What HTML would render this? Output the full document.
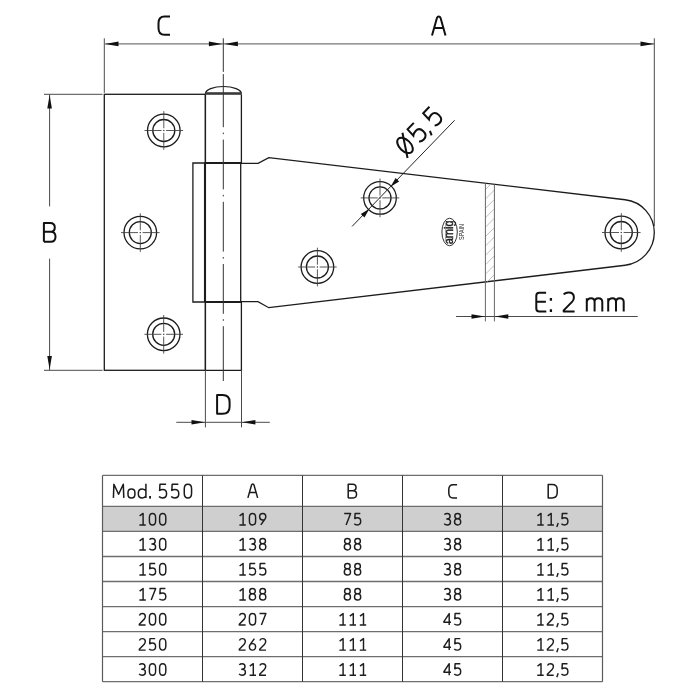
<!DOCTYPE html>
<html><head><meta charset="utf-8"><style>
html,body{margin:0;padding:0;background:#fff;width:700px;height:700px;overflow:hidden}
svg{position:absolute;left:0;top:0;display:block;will-change:transform}
text{font-family:"Liberation Sans",sans-serif}
</style></head><body>
<svg width="700" height="700" viewBox="0 0 700 700">
<rect width="700" height="700" fill="#fff"/>
<line x1="104.3" y1="38.3" x2="104.3" y2="92.8" stroke="#4a4a4a" stroke-width="1.0" />
<line x1="104.3" y1="43.9" x2="654.3" y2="43.9" stroke="#777" stroke-width="1.3" />
<polygon points="105.00,43.90 118.50,41.60 118.50,46.20" fill="#111"/>
<polygon points="222.40,43.90 208.90,46.20 208.90,41.60" fill="#111"/>
<polygon points="224.40,43.90 237.90,41.60 237.90,46.20" fill="#111"/>
<polygon points="654.00,43.90 640.50,46.20 640.50,41.60" fill="#111"/>
<line x1="654.3" y1="38.3" x2="654.3" y2="226" stroke="#4a4a4a" stroke-width="1.0" />
<path transform="translate(158.5,34.7) " d="M11.5,-18.3 H6 C2,-18.3 0,-16 0,-11.5 V-6.8 C0,-2.3 2,0 6,0 H11.5" fill="none" stroke="#111" stroke-width="2.0" stroke-linecap="butt" stroke-linejoin="round"/>
<path transform="translate(432,35.6) " d="M0,0 L5,-17.8 Q5.5,-19.2 6.75,-19.2 Q8,-19.2 8.5,-17.8 L13.5,0 M2.4,-7.6 H11.1" fill="none" stroke="#111" stroke-width="2.0" stroke-linecap="butt" stroke-linejoin="round"/>
<line x1="44" y1="94.3" x2="102.5" y2="94.3" stroke="#4a4a4a" stroke-width="1.0" />
<line x1="44" y1="370.3" x2="102.5" y2="370.3" stroke="#4a4a4a" stroke-width="1.0" />
<line x1="49.6" y1="94.3" x2="49.6" y2="206.4" stroke="#4a4a4a" stroke-width="1.0" />
<line x1="49.6" y1="258.6" x2="49.6" y2="370.3" stroke="#4a4a4a" stroke-width="1.0" />
<polygon points="49.60,95.00 51.90,108.50 47.30,108.50" fill="#111"/>
<polygon points="49.60,369.60 47.30,356.10 51.90,356.10" fill="#111"/>
<path transform="translate(43.9,241.8) " d="M0,0 V-18.9 H6.2 Q10.9,-18.9 10.9,-14.4 Q10.9,-10 6.2,-10 H0 M6.2,-10 H6.8 Q11.6,-10 11.6,-5 Q11.6,0 6.8,0 H0" fill="none" stroke="#111" stroke-width="2.0" stroke-linecap="butt" stroke-linejoin="round"/>
<rect x="104.3" y="94.3" width="101.1" height="276" fill="none" stroke="#1c1c1c" stroke-width="1.3"/>
<path d="M205.4,94.3 V163 M241.4,94.3 V163 M205.4,302 V370.3 H241.4 V302" fill="none" stroke="#1c1c1c" stroke-width="1.3"/>
<path d="M205.4,93.8 A18,7.3 0 0 1 241.4,93.8" fill="none" stroke="#1c1c1c" stroke-width="1.2"/>
<rect x="205.4" y="92.2" width="36" height="2.6" fill="#3a3a3a"/>
<path d="M192.9,302 V163 H240.7 V302 Z M204.6,163 V302" fill="none" stroke="#1c1c1c" stroke-width="1.3"/>
<line x1="204.6" y1="163" x2="241.4" y2="163" stroke="#1c1c1c" stroke-width="2.2" />
<line x1="204.6" y1="302" x2="241.4" y2="302" stroke="#1c1c1c" stroke-width="2.2" />
<path d="M240.7,163.4 H258.1 L268.8,157.6 L625.17,199.73 A33,33 0 0 1 625.2,265.27 L268.8,307.7 L258.0,301.7 H240.7" fill="none" stroke="#1c1c1c" stroke-width="1.3"/>
<clipPath id="hc"><polygon points="485.4,183.2 494.4,184.3 494.4,280.8 485.4,281.9"/></clipPath>
<path d="M485.4,180.2 L494.4,171.2 M485.4,189.6 L494.4,180.6 M485.4,199.0 L494.4,190.0 M485.4,208.4 L494.4,199.4 M485.4,217.8 L494.4,208.8 M485.4,227.2 L494.4,218.2 M485.4,236.6 L494.4,227.6 M485.4,246.0 L494.4,237.0 M485.4,255.4 L494.4,246.4 M485.4,264.8 L494.4,255.8 M485.4,274.2 L494.4,265.2 M485.4,283.6 L494.4,274.6 M485.4,293.0 L494.4,284.0 M485.4,302.4 L494.4,293.4 M485.4,311.8 L494.4,302.8 M485.4,321.2 L494.4,312.2" stroke="#b0b0b0" stroke-width="0.8" clip-path="url(#hc)"/>
<line x1="485.4" y1="183.20211999999998" x2="485.4" y2="321.4" stroke="#666" stroke-width="1.0" />
<line x1="494.4" y1="184.26592" x2="494.4" y2="321.4" stroke="#666" stroke-width="1.0" />
<circle cx="163.8" cy="130.5" r="16.3" fill="none" stroke="#1c1c1c" stroke-width="1.3"/>
<circle cx="163.8" cy="130.5" r="11.0" fill="none" stroke="#1c1c1c" stroke-width="1.3"/>
<path d="M144.5,130.5 H161.5 M163.20000000000002,130.5 H164.4 M166.10000000000002,130.5 H183.10000000000002 M163.8,111.2 V128.2 M163.8,129.9 V131.1 M163.8,132.8 V149.8" stroke="#3a3a3a" stroke-width="0.85"/>
<circle cx="140.3" cy="232.6" r="16.3" fill="none" stroke="#1c1c1c" stroke-width="1.3"/>
<circle cx="140.3" cy="232.6" r="11.0" fill="none" stroke="#1c1c1c" stroke-width="1.3"/>
<path d="M121.00000000000001,232.6 H138.0 M139.70000000000002,232.6 H140.9 M142.60000000000002,232.6 H159.60000000000002 M140.3,213.29999999999998 V230.29999999999998 M140.3,232.0 V233.2 M140.3,234.9 V251.9" stroke="#3a3a3a" stroke-width="0.85"/>
<circle cx="163.7" cy="334.3" r="16.3" fill="none" stroke="#1c1c1c" stroke-width="1.3"/>
<circle cx="163.7" cy="334.3" r="11.0" fill="none" stroke="#1c1c1c" stroke-width="1.3"/>
<path d="M144.39999999999998,334.3 H161.39999999999998 M163.1,334.3 H164.29999999999998 M166.0,334.3 H183.0 M163.7,315.0 V332.0 M163.7,333.7 V334.90000000000003 M163.7,336.6 V353.6" stroke="#3a3a3a" stroke-width="0.85"/>
<circle cx="380.0" cy="197.9" r="16.3" fill="none" stroke="#1c1c1c" stroke-width="1.3"/>
<circle cx="380.0" cy="197.9" r="11.0" fill="none" stroke="#1c1c1c" stroke-width="1.3"/>
<path d="M360.7,197.9 H377.7 M379.4,197.9 H380.6 M382.3,197.9 H399.3 M380.0,178.6 V195.6 M380.0,197.3 V198.5 M380.0,200.20000000000002 V217.20000000000002" stroke="#3a3a3a" stroke-width="0.85"/>
<circle cx="317.4" cy="267.0" r="16.3" fill="none" stroke="#1c1c1c" stroke-width="1.3"/>
<circle cx="317.4" cy="267.0" r="11.0" fill="none" stroke="#1c1c1c" stroke-width="1.3"/>
<path d="M298.09999999999997,267.0 H315.09999999999997 M316.79999999999995,267.0 H318.0 M319.7,267.0 H336.7 M317.4,247.7 V264.7 M317.4,266.4 V267.6 M317.4,269.3 V286.3" stroke="#3a3a3a" stroke-width="0.85"/>
<circle cx="621.3" cy="232.5" r="16.3" fill="none" stroke="#1c1c1c" stroke-width="1.3"/>
<circle cx="621.3" cy="232.5" r="11.0" fill="none" stroke="#1c1c1c" stroke-width="1.3"/>
<path d="M602.0,232.5 H619.0 M620.6999999999999,232.5 H621.9 M623.5999999999999,232.5 H640.5999999999999 M621.3,213.2 V230.2 M621.3,231.9 V233.1 M621.3,234.8 V251.8" stroke="#3a3a3a" stroke-width="0.85"/>
<path d="M223.3,38.3 V71.9 M223.3,74.1 V127.2 M223.3,132.6 V134.2 M223.3,194.8 V196.4 M223.3,257.0 V258.6 M223.3,319.2 V320.8 M223.3,139.6 V189.4 M223.3,201.8 V251.6 M223.3,264.0 V313.8 M223.3,326.2 V381.0" stroke="#333" stroke-width="1"/>
<line x1="352.1" y1="226.4" x2="454.6" y2="120.3" stroke="#222" stroke-width="1.0" />
<polygon points="369.44,208.73 364.43,217.52 360.83,214.04" fill="#111"/>
<polygon points="390.56,186.87 395.57,178.08 399.17,181.56" fill="#111"/>
<g transform="translate(405,145.4) rotate(-45.99)">
<ellipse cx="0" cy="0" rx="5.6" ry="9.4" fill="none" stroke="#111" stroke-width="2"/>
<path d="M7.3,-10.6 L-7.3,10.6" stroke="#111" stroke-width="2"/>
<path transform="translate(12.3,9.4)" d="M10,-18.7 H1 L0.5,-10.2 Q2.5,-11.8 5.5,-11.8 Q10.6,-11.8 10.6,-6 Q10.6,0 5,0 Q1.8,0 0.2,-2" fill="none" stroke="#111" stroke-width="2"/>
<path d="M27.8,7.8 L25.7,12.2" stroke="#111" stroke-width="2"/>
<path transform="translate(34.8,9.4)" d="M10,-18.7 H1 L0.5,-10.2 Q2.5,-11.8 5.5,-11.8 Q10.6,-11.8 10.6,-6 Q10.6,0 5,0 Q1.8,0 0.2,-2" fill="none" stroke="#111" stroke-width="2"/>
</g>
<ellipse cx="449.6" cy="232" rx="7.7" ry="13.8" fill="none" stroke="#333" stroke-width="1"/>
<text transform="translate(452.6,232.4) rotate(-90) scale(1.1,1.2)" font-size="10" text-anchor="middle" fill="#222" stroke="#222" stroke-width="0.35">amig</text>
<path d="M445.7,222.5 V241.5" stroke="#555" stroke-width="0.6"/>
<text transform="translate(464.1,232) rotate(-90) scale(0.7,1)" font-size="7.8" text-anchor="middle" fill="#222">SPAIN</text>
<line x1="456" y1="316.5" x2="637.7" y2="316.5" stroke="#4a4a4a" stroke-width="1.0" />
<polygon points="485.00,316.50 471.50,318.80 471.50,314.20" fill="#111"/>
<polygon points="494.80,316.50 508.30,314.20 508.30,318.80" fill="#111"/>
<path transform="translate(536.3,311.4) " d="M9.8,-18.7 H3 Q0,-18.7 0,-15.7 V-3 Q0,0 3,0 H10 M0,-9.6 H9.6" fill="none" stroke="#111" stroke-width="2.0" stroke-linecap="butt" stroke-linejoin="round"/>
<path d="M550.9,297.9 V300.7 M550.9,309.3 V312.1" stroke="#111" stroke-width="2.3"/>
<path transform="translate(563.5,311.4) " d="M0.3,-16.8 Q1.5,-18.9 5.1,-18.9 Q10.4,-18.9 10.4,-14 Q10.4,-11.5 8.5,-9.5 L0.2,-1 V0 H11.1" fill="none" stroke="#111" stroke-width="2.0" stroke-linecap="butt" stroke-linejoin="round"/>
<path transform="translate(586.8,311.4) " d="M0,0 V-13.2 M0,-9.5 Q0.6,-13.2 4.3,-13.2 Q7.8,-13.2 7.8,-9.5 V0 M7.8,-9.5 Q7.8,-13.2 11.6,-13.2 Q15.5,-13.2 15.5,-9.5 V0" fill="none" stroke="#111" stroke-width="2.0" stroke-linecap="butt" stroke-linejoin="round"/>
<path transform="translate(608.2,311.4) " d="M0,0 V-13.2 M0,-9.5 Q0.6,-13.2 4.3,-13.2 Q7.8,-13.2 7.8,-9.5 V0 M7.8,-9.5 Q7.8,-13.2 11.6,-13.2 Q15.5,-13.2 15.5,-9.5 V0" fill="none" stroke="#111" stroke-width="2.0" stroke-linecap="butt" stroke-linejoin="round"/>
<line x1="205.4" y1="370.3" x2="205.4" y2="427.4" stroke="#4a4a4a" stroke-width="1.0" />
<line x1="241.5" y1="370.3" x2="241.5" y2="427.4" stroke="#4a4a4a" stroke-width="1.0" />
<line x1="176.3" y1="422.3" x2="269.8" y2="422.3" stroke="#4a4a4a" stroke-width="1.0" />
<polygon points="205.00,422.30 191.50,424.60 191.50,420.00" fill="#111"/>
<polygon points="241.90,422.30 255.40,420.00 255.40,424.60" fill="#111"/>
<path transform="translate(217.1,413.7) " d="M0,0 V-18.6 H5.5 Q12.5,-18.6 12.5,-11.6 V-7 Q12.5,0 5.5,0 Z" fill="none" stroke="#111" stroke-width="2.0" stroke-linecap="butt" stroke-linejoin="round"/>
<rect x="102.5" y="506.4" width="500" height="25" fill="#cfcfcf"/>
<line x1="102.5" y1="475.4" x2="602.5" y2="475.4" stroke="#6e6e6e" stroke-width="1.3" />
<line x1="102.5" y1="506.4" x2="602.5" y2="506.4" stroke="#6e6e6e" stroke-width="1.3" />
<line x1="102.5" y1="531.44" x2="602.5" y2="531.44" stroke="#6e6e6e" stroke-width="1.3" />
<line x1="102.5" y1="556.48" x2="602.5" y2="556.48" stroke="#6e6e6e" stroke-width="1.3" />
<line x1="102.5" y1="581.52" x2="602.5" y2="581.52" stroke="#6e6e6e" stroke-width="1.3" />
<line x1="102.5" y1="606.56" x2="602.5" y2="606.56" stroke="#6e6e6e" stroke-width="1.3" />
<line x1="102.5" y1="631.6" x2="602.5" y2="631.6" stroke="#6e6e6e" stroke-width="1.3" />
<line x1="102.5" y1="656.64" x2="602.5" y2="656.64" stroke="#6e6e6e" stroke-width="1.3" />
<line x1="102.5" y1="681.68" x2="602.5" y2="681.68" stroke="#6e6e6e" stroke-width="1.3" />
<line x1="102.5" y1="475.4" x2="102.5" y2="681.7" stroke="#5a5a5a" stroke-width="1.2" />
<line x1="602.5" y1="475.4" x2="602.5" y2="681.7" stroke="#5a5a5a" stroke-width="1.2" />
<line x1="202.5" y1="475.4" x2="202.5" y2="681.7" stroke="#333" stroke-width="1.0" />
<line x1="302.5" y1="475.4" x2="302.5" y2="681.7" stroke="#333" stroke-width="1.0" />
<line x1="402.5" y1="475.4" x2="402.5" y2="681.7" stroke="#333" stroke-width="1.0" />
<line x1="502.5" y1="475.4" x2="502.5" y2="681.7" stroke="#333" stroke-width="1.0" />
<path transform="translate(247.9,497.9) scale(0.72)" d="M0,0 L5,-17.8 Q5.5,-19.2 6.75,-19.2 Q8,-19.2 8.5,-17.8 L13.5,0 M2.4,-7.6 H11.1" fill="none" stroke="#1a1a1a" stroke-width="2.1" stroke-linejoin="round"/>
<path transform="translate(348.2,497.9) scale(0.72)" d="M0,0 V-18.9 H6.2 Q10.9,-18.9 10.9,-14.4 Q10.9,-10 6.2,-10 H0 M6.2,-10 H6.8 Q11.6,-10 11.6,-5 Q11.6,0 6.8,0 H0" fill="none" stroke="#1a1a1a" stroke-width="2.1" stroke-linejoin="round"/>
<path transform="translate(448.8,497.9) scale(0.72)" d="M11.5,-18.3 H6 C2,-18.3 0,-16 0,-11.5 V-6.8 C0,-2.3 2,0 6,0 H11.5" fill="none" stroke="#1a1a1a" stroke-width="2.1" stroke-linejoin="round"/>
<path transform="translate(548.2,497.9) scale(0.72)" d="M0,0 V-18.6 H5.5 Q12.5,-18.6 12.5,-11.6 V-7 Q12.5,0 5.5,0 Z" fill="none" stroke="#1a1a1a" stroke-width="2.1" stroke-linejoin="round"/>
<g fill="none" stroke="#1a1a1a" stroke-width="1.5" stroke-linejoin="round">
<path d="M113.4,497.9 L113.9,484.2 L118.6,494.2 L123.3,484.2 L123.8,497.9"/>
<path d="M131.45,488.9 Q134.9,488.9 134.9,492.4 V494.4 Q134.9,497.9 131.45,497.9 Q128.0,497.9 128.0,494.4 V492.4 Q128.0,488.9 131.45,488.9 Z"/>
<path d="M145.9,483.7 V497.9 M145.9,491.0 Q144.9,488.9 142.2,488.9 Q138.3,488.9 138.3,493.4 Q138.3,497.9 142.2,497.9 Q144.9,497.9 145.9,495.8"/>
</g>
<rect x="149.1" y="496.0" width="1.9" height="2.6" fill="#1a1a1a"/>
<path transform="translate(156.9,497.9) scale(1.18)" d="M7.8,-11.5 H2.6 L2.3,-6.3 Q3.3,-7.1 4.9,-7.1 Q8.2,-7.1 8.2,-3.6 Q8.2,0 4.8,0 Q2.8,0 1.8,-1.2" fill="none" stroke="#1a1a1a" stroke-width="1.271" stroke-linejoin="round"/>
<path transform="translate(169.1,497.9) scale(1.18)" d="M7.8,-11.5 H2.6 L2.3,-6.3 Q3.3,-7.1 4.9,-7.1 Q8.2,-7.1 8.2,-3.6 Q8.2,0 4.8,0 Q2.8,0 1.8,-1.2" fill="none" stroke="#1a1a1a" stroke-width="1.271" stroke-linejoin="round"/>
<path transform="translate(181.9,497.9) scale(1.18)" d="M5.1,-11.5 Q8.2,-11.5 8.2,-7.5 V-4 Q8.2,0 5.1,0 Q2.0,0 2.0,-4 V-7.5 Q2.0,-11.5 5.1,-11.5 Z" fill="none" stroke="#1a1a1a" stroke-width="1.271" stroke-linejoin="round"/>
<g fill="none" stroke="#1e1e1e" stroke-width="1.450" stroke-linejoin="round"><path transform="translate(137.20,524.92) scale(1.0)" d="M2.4,-9.0 L5.9,-11.5 V0 M2.2,0 H8.6"/><path transform="translate(147.40,524.92) scale(1.0)" d="M5.1,-11.5 Q8.2,-11.5 8.2,-7.5 V-4 Q8.2,0 5.1,0 Q2.0,0 2.0,-4 V-7.5 Q2.0,-11.5 5.1,-11.5 Z"/><path transform="translate(157.60,524.92) scale(1.0)" d="M5.1,-11.5 Q8.2,-11.5 8.2,-7.5 V-4 Q8.2,0 5.1,0 Q2.0,0 2.0,-4 V-7.5 Q2.0,-11.5 5.1,-11.5 Z"/></g>
<g fill="none" stroke="#1e1e1e" stroke-width="1.450" stroke-linejoin="round"><path transform="translate(237.20,524.92) scale(1.0)" d="M2.4,-9.0 L5.9,-11.5 V0 M2.2,0 H8.6"/><path transform="translate(247.40,524.92) scale(1.0)" d="M5.1,-11.5 Q8.2,-11.5 8.2,-7.5 V-4 Q8.2,0 5.1,0 Q2.0,0 2.0,-4 V-7.5 Q2.0,-11.5 5.1,-11.5 Z"/><path transform="translate(257.60,524.92) scale(1.0)" d="M3.2,0 L7.4,-5.9 Q8.2,-7.1 8.2,-8.2 Q8.2,-11.5 5.1,-11.5 Q2.0,-11.5 2.0,-8.2 Q2.0,-5.0 5.1,-5.0 Q6.5,-5.0 7.5,-5.7"/></g>
<g fill="none" stroke="#1e1e1e" stroke-width="1.450" stroke-linejoin="round"><path transform="translate(342.30,524.92) scale(1.0)" d="M1.9,-11.5 H8.3 L3.8,0"/><path transform="translate(352.50,524.92) scale(1.0)" d="M7.8,-11.5 H2.6 L2.3,-6.3 Q3.3,-7.1 4.9,-7.1 Q8.2,-7.1 8.2,-3.6 Q8.2,0 4.8,0 Q2.8,0 1.8,-1.2"/></g>
<g fill="none" stroke="#1e1e1e" stroke-width="1.450" stroke-linejoin="round"><path transform="translate(442.30,524.92) scale(1.0)" d="M2.1,-10.3 Q3.0,-11.5 5.0,-11.5 Q7.8,-11.5 7.8,-8.7 Q7.8,-6.0 4.7,-6.0 H4.0 M4.7,-6.0 Q8.2,-6.0 8.2,-3.0 Q8.2,0 4.9,0 Q2.8,0 1.9,-1.3"/><path transform="translate(452.50,524.92) scale(1.0)" d="M5.1,-6.2 Q2.3,-6.2 2.3,-8.85 Q2.3,-11.5 5.1,-11.5 Q7.9,-11.5 7.9,-8.85 Q7.9,-6.2 5.1,-6.2 Q8.2,-6.2 8.2,-3.1 Q8.2,0 5.1,0 Q2.0,0 2.0,-3.1 Q2.0,-6.2 5.1,-6.2 Z"/></g>
<g fill="none" stroke="#1e1e1e" stroke-width="1.450" stroke-linejoin="round"><path transform="translate(535.10,524.92) scale(1.0)" d="M2.4,-9.0 L5.9,-11.5 V0 M2.2,0 H8.6"/><path transform="translate(545.30,524.92) scale(1.0)" d="M2.4,-9.0 L5.9,-11.5 V0 M2.2,0 H8.6"/><path transform="translate(555.50,524.92) scale(1.0)" d="M2.7,-2.0 L1.3,2.1"/><path transform="translate(559.70,524.92) scale(1.0)" d="M7.8,-11.5 H2.6 L2.3,-6.3 Q3.3,-7.1 4.9,-7.1 Q8.2,-7.1 8.2,-3.6 Q8.2,0 4.8,0 Q2.8,0 1.8,-1.2"/></g>
<g fill="none" stroke="#1e1e1e" stroke-width="1.450" stroke-linejoin="round"><path transform="translate(137.20,549.96) scale(1.0)" d="M2.4,-9.0 L5.9,-11.5 V0 M2.2,0 H8.6"/><path transform="translate(147.40,549.96) scale(1.0)" d="M2.1,-10.3 Q3.0,-11.5 5.0,-11.5 Q7.8,-11.5 7.8,-8.7 Q7.8,-6.0 4.7,-6.0 H4.0 M4.7,-6.0 Q8.2,-6.0 8.2,-3.0 Q8.2,0 4.9,0 Q2.8,0 1.9,-1.3"/><path transform="translate(157.60,549.96) scale(1.0)" d="M5.1,-11.5 Q8.2,-11.5 8.2,-7.5 V-4 Q8.2,0 5.1,0 Q2.0,0 2.0,-4 V-7.5 Q2.0,-11.5 5.1,-11.5 Z"/></g>
<g fill="none" stroke="#1e1e1e" stroke-width="1.450" stroke-linejoin="round"><path transform="translate(237.20,549.96) scale(1.0)" d="M2.4,-9.0 L5.9,-11.5 V0 M2.2,0 H8.6"/><path transform="translate(247.40,549.96) scale(1.0)" d="M2.1,-10.3 Q3.0,-11.5 5.0,-11.5 Q7.8,-11.5 7.8,-8.7 Q7.8,-6.0 4.7,-6.0 H4.0 M4.7,-6.0 Q8.2,-6.0 8.2,-3.0 Q8.2,0 4.9,0 Q2.8,0 1.9,-1.3"/><path transform="translate(257.60,549.96) scale(1.0)" d="M5.1,-6.2 Q2.3,-6.2 2.3,-8.85 Q2.3,-11.5 5.1,-11.5 Q7.9,-11.5 7.9,-8.85 Q7.9,-6.2 5.1,-6.2 Q8.2,-6.2 8.2,-3.1 Q8.2,0 5.1,0 Q2.0,0 2.0,-3.1 Q2.0,-6.2 5.1,-6.2 Z"/></g>
<g fill="none" stroke="#1e1e1e" stroke-width="1.450" stroke-linejoin="round"><path transform="translate(342.30,549.96) scale(1.0)" d="M5.1,-6.2 Q2.3,-6.2 2.3,-8.85 Q2.3,-11.5 5.1,-11.5 Q7.9,-11.5 7.9,-8.85 Q7.9,-6.2 5.1,-6.2 Q8.2,-6.2 8.2,-3.1 Q8.2,0 5.1,0 Q2.0,0 2.0,-3.1 Q2.0,-6.2 5.1,-6.2 Z"/><path transform="translate(352.50,549.96) scale(1.0)" d="M5.1,-6.2 Q2.3,-6.2 2.3,-8.85 Q2.3,-11.5 5.1,-11.5 Q7.9,-11.5 7.9,-8.85 Q7.9,-6.2 5.1,-6.2 Q8.2,-6.2 8.2,-3.1 Q8.2,0 5.1,0 Q2.0,0 2.0,-3.1 Q2.0,-6.2 5.1,-6.2 Z"/></g>
<g fill="none" stroke="#1e1e1e" stroke-width="1.450" stroke-linejoin="round"><path transform="translate(442.30,549.96) scale(1.0)" d="M2.1,-10.3 Q3.0,-11.5 5.0,-11.5 Q7.8,-11.5 7.8,-8.7 Q7.8,-6.0 4.7,-6.0 H4.0 M4.7,-6.0 Q8.2,-6.0 8.2,-3.0 Q8.2,0 4.9,0 Q2.8,0 1.9,-1.3"/><path transform="translate(452.50,549.96) scale(1.0)" d="M5.1,-6.2 Q2.3,-6.2 2.3,-8.85 Q2.3,-11.5 5.1,-11.5 Q7.9,-11.5 7.9,-8.85 Q7.9,-6.2 5.1,-6.2 Q8.2,-6.2 8.2,-3.1 Q8.2,0 5.1,0 Q2.0,0 2.0,-3.1 Q2.0,-6.2 5.1,-6.2 Z"/></g>
<g fill="none" stroke="#1e1e1e" stroke-width="1.450" stroke-linejoin="round"><path transform="translate(535.10,549.96) scale(1.0)" d="M2.4,-9.0 L5.9,-11.5 V0 M2.2,0 H8.6"/><path transform="translate(545.30,549.96) scale(1.0)" d="M2.4,-9.0 L5.9,-11.5 V0 M2.2,0 H8.6"/><path transform="translate(555.50,549.96) scale(1.0)" d="M2.7,-2.0 L1.3,2.1"/><path transform="translate(559.70,549.96) scale(1.0)" d="M7.8,-11.5 H2.6 L2.3,-6.3 Q3.3,-7.1 4.9,-7.1 Q8.2,-7.1 8.2,-3.6 Q8.2,0 4.8,0 Q2.8,0 1.8,-1.2"/></g>
<g fill="none" stroke="#1e1e1e" stroke-width="1.450" stroke-linejoin="round"><path transform="translate(137.20,575.0) scale(1.0)" d="M2.4,-9.0 L5.9,-11.5 V0 M2.2,0 H8.6"/><path transform="translate(147.40,575.0) scale(1.0)" d="M7.8,-11.5 H2.6 L2.3,-6.3 Q3.3,-7.1 4.9,-7.1 Q8.2,-7.1 8.2,-3.6 Q8.2,0 4.8,0 Q2.8,0 1.8,-1.2"/><path transform="translate(157.60,575.0) scale(1.0)" d="M5.1,-11.5 Q8.2,-11.5 8.2,-7.5 V-4 Q8.2,0 5.1,0 Q2.0,0 2.0,-4 V-7.5 Q2.0,-11.5 5.1,-11.5 Z"/></g>
<g fill="none" stroke="#1e1e1e" stroke-width="1.450" stroke-linejoin="round"><path transform="translate(237.20,575.0) scale(1.0)" d="M2.4,-9.0 L5.9,-11.5 V0 M2.2,0 H8.6"/><path transform="translate(247.40,575.0) scale(1.0)" d="M7.8,-11.5 H2.6 L2.3,-6.3 Q3.3,-7.1 4.9,-7.1 Q8.2,-7.1 8.2,-3.6 Q8.2,0 4.8,0 Q2.8,0 1.8,-1.2"/><path transform="translate(257.60,575.0) scale(1.0)" d="M7.8,-11.5 H2.6 L2.3,-6.3 Q3.3,-7.1 4.9,-7.1 Q8.2,-7.1 8.2,-3.6 Q8.2,0 4.8,0 Q2.8,0 1.8,-1.2"/></g>
<g fill="none" stroke="#1e1e1e" stroke-width="1.450" stroke-linejoin="round"><path transform="translate(342.30,575.0) scale(1.0)" d="M5.1,-6.2 Q2.3,-6.2 2.3,-8.85 Q2.3,-11.5 5.1,-11.5 Q7.9,-11.5 7.9,-8.85 Q7.9,-6.2 5.1,-6.2 Q8.2,-6.2 8.2,-3.1 Q8.2,0 5.1,0 Q2.0,0 2.0,-3.1 Q2.0,-6.2 5.1,-6.2 Z"/><path transform="translate(352.50,575.0) scale(1.0)" d="M5.1,-6.2 Q2.3,-6.2 2.3,-8.85 Q2.3,-11.5 5.1,-11.5 Q7.9,-11.5 7.9,-8.85 Q7.9,-6.2 5.1,-6.2 Q8.2,-6.2 8.2,-3.1 Q8.2,0 5.1,0 Q2.0,0 2.0,-3.1 Q2.0,-6.2 5.1,-6.2 Z"/></g>
<g fill="none" stroke="#1e1e1e" stroke-width="1.450" stroke-linejoin="round"><path transform="translate(442.30,575.0) scale(1.0)" d="M2.1,-10.3 Q3.0,-11.5 5.0,-11.5 Q7.8,-11.5 7.8,-8.7 Q7.8,-6.0 4.7,-6.0 H4.0 M4.7,-6.0 Q8.2,-6.0 8.2,-3.0 Q8.2,0 4.9,0 Q2.8,0 1.9,-1.3"/><path transform="translate(452.50,575.0) scale(1.0)" d="M5.1,-6.2 Q2.3,-6.2 2.3,-8.85 Q2.3,-11.5 5.1,-11.5 Q7.9,-11.5 7.9,-8.85 Q7.9,-6.2 5.1,-6.2 Q8.2,-6.2 8.2,-3.1 Q8.2,0 5.1,0 Q2.0,0 2.0,-3.1 Q2.0,-6.2 5.1,-6.2 Z"/></g>
<g fill="none" stroke="#1e1e1e" stroke-width="1.450" stroke-linejoin="round"><path transform="translate(535.10,575.0) scale(1.0)" d="M2.4,-9.0 L5.9,-11.5 V0 M2.2,0 H8.6"/><path transform="translate(545.30,575.0) scale(1.0)" d="M2.4,-9.0 L5.9,-11.5 V0 M2.2,0 H8.6"/><path transform="translate(555.50,575.0) scale(1.0)" d="M2.7,-2.0 L1.3,2.1"/><path transform="translate(559.70,575.0) scale(1.0)" d="M7.8,-11.5 H2.6 L2.3,-6.3 Q3.3,-7.1 4.9,-7.1 Q8.2,-7.1 8.2,-3.6 Q8.2,0 4.8,0 Q2.8,0 1.8,-1.2"/></g>
<g fill="none" stroke="#1e1e1e" stroke-width="1.450" stroke-linejoin="round"><path transform="translate(137.20,600.04) scale(1.0)" d="M2.4,-9.0 L5.9,-11.5 V0 M2.2,0 H8.6"/><path transform="translate(147.40,600.04) scale(1.0)" d="M1.9,-11.5 H8.3 L3.8,0"/><path transform="translate(157.60,600.04) scale(1.0)" d="M7.8,-11.5 H2.6 L2.3,-6.3 Q3.3,-7.1 4.9,-7.1 Q8.2,-7.1 8.2,-3.6 Q8.2,0 4.8,0 Q2.8,0 1.8,-1.2"/></g>
<g fill="none" stroke="#1e1e1e" stroke-width="1.450" stroke-linejoin="round"><path transform="translate(237.20,600.04) scale(1.0)" d="M2.4,-9.0 L5.9,-11.5 V0 M2.2,0 H8.6"/><path transform="translate(247.40,600.04) scale(1.0)" d="M5.1,-6.2 Q2.3,-6.2 2.3,-8.85 Q2.3,-11.5 5.1,-11.5 Q7.9,-11.5 7.9,-8.85 Q7.9,-6.2 5.1,-6.2 Q8.2,-6.2 8.2,-3.1 Q8.2,0 5.1,0 Q2.0,0 2.0,-3.1 Q2.0,-6.2 5.1,-6.2 Z"/><path transform="translate(257.60,600.04) scale(1.0)" d="M5.1,-6.2 Q2.3,-6.2 2.3,-8.85 Q2.3,-11.5 5.1,-11.5 Q7.9,-11.5 7.9,-8.85 Q7.9,-6.2 5.1,-6.2 Q8.2,-6.2 8.2,-3.1 Q8.2,0 5.1,0 Q2.0,0 2.0,-3.1 Q2.0,-6.2 5.1,-6.2 Z"/></g>
<g fill="none" stroke="#1e1e1e" stroke-width="1.450" stroke-linejoin="round"><path transform="translate(342.30,600.04) scale(1.0)" d="M5.1,-6.2 Q2.3,-6.2 2.3,-8.85 Q2.3,-11.5 5.1,-11.5 Q7.9,-11.5 7.9,-8.85 Q7.9,-6.2 5.1,-6.2 Q8.2,-6.2 8.2,-3.1 Q8.2,0 5.1,0 Q2.0,0 2.0,-3.1 Q2.0,-6.2 5.1,-6.2 Z"/><path transform="translate(352.50,600.04) scale(1.0)" d="M5.1,-6.2 Q2.3,-6.2 2.3,-8.85 Q2.3,-11.5 5.1,-11.5 Q7.9,-11.5 7.9,-8.85 Q7.9,-6.2 5.1,-6.2 Q8.2,-6.2 8.2,-3.1 Q8.2,0 5.1,0 Q2.0,0 2.0,-3.1 Q2.0,-6.2 5.1,-6.2 Z"/></g>
<g fill="none" stroke="#1e1e1e" stroke-width="1.450" stroke-linejoin="round"><path transform="translate(442.30,600.04) scale(1.0)" d="M2.1,-10.3 Q3.0,-11.5 5.0,-11.5 Q7.8,-11.5 7.8,-8.7 Q7.8,-6.0 4.7,-6.0 H4.0 M4.7,-6.0 Q8.2,-6.0 8.2,-3.0 Q8.2,0 4.9,0 Q2.8,0 1.9,-1.3"/><path transform="translate(452.50,600.04) scale(1.0)" d="M5.1,-6.2 Q2.3,-6.2 2.3,-8.85 Q2.3,-11.5 5.1,-11.5 Q7.9,-11.5 7.9,-8.85 Q7.9,-6.2 5.1,-6.2 Q8.2,-6.2 8.2,-3.1 Q8.2,0 5.1,0 Q2.0,0 2.0,-3.1 Q2.0,-6.2 5.1,-6.2 Z"/></g>
<g fill="none" stroke="#1e1e1e" stroke-width="1.450" stroke-linejoin="round"><path transform="translate(535.10,600.04) scale(1.0)" d="M2.4,-9.0 L5.9,-11.5 V0 M2.2,0 H8.6"/><path transform="translate(545.30,600.04) scale(1.0)" d="M2.4,-9.0 L5.9,-11.5 V0 M2.2,0 H8.6"/><path transform="translate(555.50,600.04) scale(1.0)" d="M2.7,-2.0 L1.3,2.1"/><path transform="translate(559.70,600.04) scale(1.0)" d="M7.8,-11.5 H2.6 L2.3,-6.3 Q3.3,-7.1 4.9,-7.1 Q8.2,-7.1 8.2,-3.6 Q8.2,0 4.8,0 Q2.8,0 1.8,-1.2"/></g>
<g fill="none" stroke="#1e1e1e" stroke-width="1.450" stroke-linejoin="round"><path transform="translate(137.20,625.08) scale(1.0)" d="M2.2,-9.6 Q2.9,-11.5 5.2,-11.5 Q8.1,-11.5 8.1,-8.6 Q8.1,-7.0 6.8,-5.7 L2.1,-0.8 V0 H8.4"/><path transform="translate(147.40,625.08) scale(1.0)" d="M5.1,-11.5 Q8.2,-11.5 8.2,-7.5 V-4 Q8.2,0 5.1,0 Q2.0,0 2.0,-4 V-7.5 Q2.0,-11.5 5.1,-11.5 Z"/><path transform="translate(157.60,625.08) scale(1.0)" d="M5.1,-11.5 Q8.2,-11.5 8.2,-7.5 V-4 Q8.2,0 5.1,0 Q2.0,0 2.0,-4 V-7.5 Q2.0,-11.5 5.1,-11.5 Z"/></g>
<g fill="none" stroke="#1e1e1e" stroke-width="1.450" stroke-linejoin="round"><path transform="translate(237.20,625.08) scale(1.0)" d="M2.2,-9.6 Q2.9,-11.5 5.2,-11.5 Q8.1,-11.5 8.1,-8.6 Q8.1,-7.0 6.8,-5.7 L2.1,-0.8 V0 H8.4"/><path transform="translate(247.40,625.08) scale(1.0)" d="M5.1,-11.5 Q8.2,-11.5 8.2,-7.5 V-4 Q8.2,0 5.1,0 Q2.0,0 2.0,-4 V-7.5 Q2.0,-11.5 5.1,-11.5 Z"/><path transform="translate(257.60,625.08) scale(1.0)" d="M1.9,-11.5 H8.3 L3.8,0"/></g>
<g fill="none" stroke="#1e1e1e" stroke-width="1.450" stroke-linejoin="round"><path transform="translate(337.20,625.08) scale(1.0)" d="M2.4,-9.0 L5.9,-11.5 V0 M2.2,0 H8.6"/><path transform="translate(347.40,625.08) scale(1.0)" d="M2.4,-9.0 L5.9,-11.5 V0 M2.2,0 H8.6"/><path transform="translate(357.60,625.08) scale(1.0)" d="M2.4,-9.0 L5.9,-11.5 V0 M2.2,0 H8.6"/></g>
<g fill="none" stroke="#1e1e1e" stroke-width="1.450" stroke-linejoin="round"><path transform="translate(442.30,625.08) scale(1.0)" d="M6.9,0 V-11.5 L1.6,-3.4 V-2.9 H8.7"/><path transform="translate(452.50,625.08) scale(1.0)" d="M7.8,-11.5 H2.6 L2.3,-6.3 Q3.3,-7.1 4.9,-7.1 Q8.2,-7.1 8.2,-3.6 Q8.2,0 4.8,0 Q2.8,0 1.8,-1.2"/></g>
<g fill="none" stroke="#1e1e1e" stroke-width="1.450" stroke-linejoin="round"><path transform="translate(535.10,625.08) scale(1.0)" d="M2.4,-9.0 L5.9,-11.5 V0 M2.2,0 H8.6"/><path transform="translate(545.30,625.08) scale(1.0)" d="M2.2,-9.6 Q2.9,-11.5 5.2,-11.5 Q8.1,-11.5 8.1,-8.6 Q8.1,-7.0 6.8,-5.7 L2.1,-0.8 V0 H8.4"/><path transform="translate(555.50,625.08) scale(1.0)" d="M2.7,-2.0 L1.3,2.1"/><path transform="translate(559.70,625.08) scale(1.0)" d="M7.8,-11.5 H2.6 L2.3,-6.3 Q3.3,-7.1 4.9,-7.1 Q8.2,-7.1 8.2,-3.6 Q8.2,0 4.8,0 Q2.8,0 1.8,-1.2"/></g>
<g fill="none" stroke="#1e1e1e" stroke-width="1.450" stroke-linejoin="round"><path transform="translate(137.20,650.12) scale(1.0)" d="M2.2,-9.6 Q2.9,-11.5 5.2,-11.5 Q8.1,-11.5 8.1,-8.6 Q8.1,-7.0 6.8,-5.7 L2.1,-0.8 V0 H8.4"/><path transform="translate(147.40,650.12) scale(1.0)" d="M7.8,-11.5 H2.6 L2.3,-6.3 Q3.3,-7.1 4.9,-7.1 Q8.2,-7.1 8.2,-3.6 Q8.2,0 4.8,0 Q2.8,0 1.8,-1.2"/><path transform="translate(157.60,650.12) scale(1.0)" d="M5.1,-11.5 Q8.2,-11.5 8.2,-7.5 V-4 Q8.2,0 5.1,0 Q2.0,0 2.0,-4 V-7.5 Q2.0,-11.5 5.1,-11.5 Z"/></g>
<g fill="none" stroke="#1e1e1e" stroke-width="1.450" stroke-linejoin="round"><path transform="translate(237.20,650.12) scale(1.0)" d="M2.2,-9.6 Q2.9,-11.5 5.2,-11.5 Q8.1,-11.5 8.1,-8.6 Q8.1,-7.0 6.8,-5.7 L2.1,-0.8 V0 H8.4"/><path transform="translate(247.40,650.12) scale(1.0)" d="M7.0,-11.5 L2.8,-5.6 Q2.0,-4.4 2.0,-3.3 Q2.0,0 5.1,0 Q8.2,0 8.2,-3.3 Q8.2,-6.5 5.1,-6.5 Q3.7,-6.5 2.7,-5.8"/><path transform="translate(257.60,650.12) scale(1.0)" d="M2.2,-9.6 Q2.9,-11.5 5.2,-11.5 Q8.1,-11.5 8.1,-8.6 Q8.1,-7.0 6.8,-5.7 L2.1,-0.8 V0 H8.4"/></g>
<g fill="none" stroke="#1e1e1e" stroke-width="1.450" stroke-linejoin="round"><path transform="translate(337.20,650.12) scale(1.0)" d="M2.4,-9.0 L5.9,-11.5 V0 M2.2,0 H8.6"/><path transform="translate(347.40,650.12) scale(1.0)" d="M2.4,-9.0 L5.9,-11.5 V0 M2.2,0 H8.6"/><path transform="translate(357.60,650.12) scale(1.0)" d="M2.4,-9.0 L5.9,-11.5 V0 M2.2,0 H8.6"/></g>
<g fill="none" stroke="#1e1e1e" stroke-width="1.450" stroke-linejoin="round"><path transform="translate(442.30,650.12) scale(1.0)" d="M6.9,0 V-11.5 L1.6,-3.4 V-2.9 H8.7"/><path transform="translate(452.50,650.12) scale(1.0)" d="M7.8,-11.5 H2.6 L2.3,-6.3 Q3.3,-7.1 4.9,-7.1 Q8.2,-7.1 8.2,-3.6 Q8.2,0 4.8,0 Q2.8,0 1.8,-1.2"/></g>
<g fill="none" stroke="#1e1e1e" stroke-width="1.450" stroke-linejoin="round"><path transform="translate(535.10,650.12) scale(1.0)" d="M2.4,-9.0 L5.9,-11.5 V0 M2.2,0 H8.6"/><path transform="translate(545.30,650.12) scale(1.0)" d="M2.2,-9.6 Q2.9,-11.5 5.2,-11.5 Q8.1,-11.5 8.1,-8.6 Q8.1,-7.0 6.8,-5.7 L2.1,-0.8 V0 H8.4"/><path transform="translate(555.50,650.12) scale(1.0)" d="M2.7,-2.0 L1.3,2.1"/><path transform="translate(559.70,650.12) scale(1.0)" d="M7.8,-11.5 H2.6 L2.3,-6.3 Q3.3,-7.1 4.9,-7.1 Q8.2,-7.1 8.2,-3.6 Q8.2,0 4.8,0 Q2.8,0 1.8,-1.2"/></g>
<g fill="none" stroke="#1e1e1e" stroke-width="1.450" stroke-linejoin="round"><path transform="translate(137.20,675.16) scale(1.0)" d="M2.1,-10.3 Q3.0,-11.5 5.0,-11.5 Q7.8,-11.5 7.8,-8.7 Q7.8,-6.0 4.7,-6.0 H4.0 M4.7,-6.0 Q8.2,-6.0 8.2,-3.0 Q8.2,0 4.9,0 Q2.8,0 1.9,-1.3"/><path transform="translate(147.40,675.16) scale(1.0)" d="M5.1,-11.5 Q8.2,-11.5 8.2,-7.5 V-4 Q8.2,0 5.1,0 Q2.0,0 2.0,-4 V-7.5 Q2.0,-11.5 5.1,-11.5 Z"/><path transform="translate(157.60,675.16) scale(1.0)" d="M5.1,-11.5 Q8.2,-11.5 8.2,-7.5 V-4 Q8.2,0 5.1,0 Q2.0,0 2.0,-4 V-7.5 Q2.0,-11.5 5.1,-11.5 Z"/></g>
<g fill="none" stroke="#1e1e1e" stroke-width="1.450" stroke-linejoin="round"><path transform="translate(237.20,675.16) scale(1.0)" d="M2.1,-10.3 Q3.0,-11.5 5.0,-11.5 Q7.8,-11.5 7.8,-8.7 Q7.8,-6.0 4.7,-6.0 H4.0 M4.7,-6.0 Q8.2,-6.0 8.2,-3.0 Q8.2,0 4.9,0 Q2.8,0 1.9,-1.3"/><path transform="translate(247.40,675.16) scale(1.0)" d="M2.4,-9.0 L5.9,-11.5 V0 M2.2,0 H8.6"/><path transform="translate(257.60,675.16) scale(1.0)" d="M2.2,-9.6 Q2.9,-11.5 5.2,-11.5 Q8.1,-11.5 8.1,-8.6 Q8.1,-7.0 6.8,-5.7 L2.1,-0.8 V0 H8.4"/></g>
<g fill="none" stroke="#1e1e1e" stroke-width="1.450" stroke-linejoin="round"><path transform="translate(337.20,675.16) scale(1.0)" d="M2.4,-9.0 L5.9,-11.5 V0 M2.2,0 H8.6"/><path transform="translate(347.40,675.16) scale(1.0)" d="M2.4,-9.0 L5.9,-11.5 V0 M2.2,0 H8.6"/><path transform="translate(357.60,675.16) scale(1.0)" d="M2.4,-9.0 L5.9,-11.5 V0 M2.2,0 H8.6"/></g>
<g fill="none" stroke="#1e1e1e" stroke-width="1.450" stroke-linejoin="round"><path transform="translate(442.30,675.16) scale(1.0)" d="M6.9,0 V-11.5 L1.6,-3.4 V-2.9 H8.7"/><path transform="translate(452.50,675.16) scale(1.0)" d="M7.8,-11.5 H2.6 L2.3,-6.3 Q3.3,-7.1 4.9,-7.1 Q8.2,-7.1 8.2,-3.6 Q8.2,0 4.8,0 Q2.8,0 1.8,-1.2"/></g>
<g fill="none" stroke="#1e1e1e" stroke-width="1.450" stroke-linejoin="round"><path transform="translate(535.10,675.16) scale(1.0)" d="M2.4,-9.0 L5.9,-11.5 V0 M2.2,0 H8.6"/><path transform="translate(545.30,675.16) scale(1.0)" d="M2.2,-9.6 Q2.9,-11.5 5.2,-11.5 Q8.1,-11.5 8.1,-8.6 Q8.1,-7.0 6.8,-5.7 L2.1,-0.8 V0 H8.4"/><path transform="translate(555.50,675.16) scale(1.0)" d="M2.7,-2.0 L1.3,2.1"/><path transform="translate(559.70,675.16) scale(1.0)" d="M7.8,-11.5 H2.6 L2.3,-6.3 Q3.3,-7.1 4.9,-7.1 Q8.2,-7.1 8.2,-3.6 Q8.2,0 4.8,0 Q2.8,0 1.8,-1.2"/></g>
</svg>
</body></html>
